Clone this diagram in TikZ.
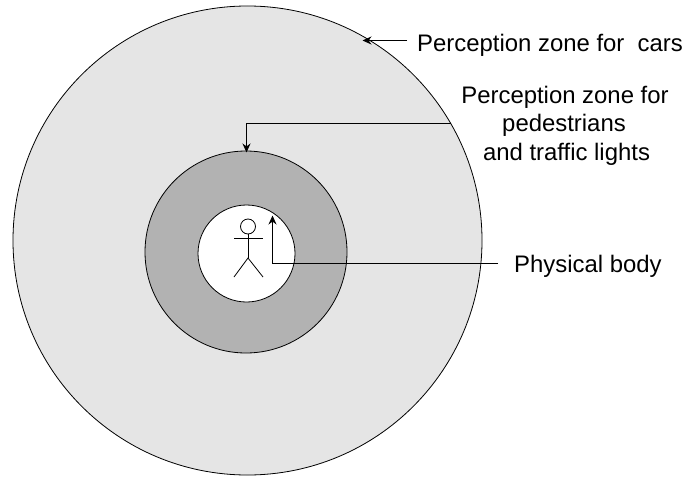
\documentclass[tikz,border=0pt]{standalone}
\usepackage{fontspec}
\setmainfont{Liberation Sans}
\usetikzlibrary{arrows.meta}
\tikzset{
  zone/.style={circle,draw=black,line width=0.8pt,inner sep=0pt,minimum size=#1},
  lbl/.style={font=\fontsize{23.9}{31}\selectfont,align=center,inner sep=0pt},
  conn/.style={line width=1pt,-{Stealth[length=9pt,width=8pt]}},
  fig/.style={line width=0.8pt}
}
\begin{document}
\begin{tikzpicture}[x=1pt,y=-1pt]
\useasboundingbox (0,0) rectangle (684,476);
\node[zone=469pt,fill=black!10] (cars) at (247.5,240.5) {};
\node[zone=202pt,fill=black!30] (ped) at (246,252) {};
\node[zone=97pt,fill=white] (body) at (246.5,253.5) {};
% stick figure
\node[circle,draw=black,fig,inner sep=0pt,minimum size=15pt] (head) at (248,226.5) {};
\coordinate (hip) at (248,258);
\coordinate (armL) at (234,238);
\coordinate (armR) at (263,238);
\coordinate (footL) at (234,277);
\coordinate (footR) at (263,277);
\draw[fig] (head) -- (hip);
\draw[fig] (armL) -- (armR);
\draw[fig] (footL) -- (hip) -- (footR);
% labels
\node[lbl,anchor=base west] (lcars) at (417,52) {Perception zone for \ cars};
\node[lbl,anchor=base] (lped) at (565,103) {Perception zone for};
\node[lbl,anchor=base] (lped2) at (564,131.5) {pedestrians};
\node[lbl,anchor=base] (lped3) at (566.5,160) {and traffic lights};
\node[lbl,anchor=base west] (lbody) at (514,272) {Physical body};
% connectors
\coordinate (a1s) at (407,40.5);
\coordinate (a1e) at (362.5,40.5);
\draw[conn] (a1s) -- (a1e);
\coordinate (a2s) at (451,123.5);
\coordinate (a2c) at (246.5,123.5);
\coordinate (a2e) at (246.5,152.5);
\draw[conn] (a2s) -- (a2c) -- (a2e);
\coordinate (a3s) at (498,263);
\coordinate (a3c) at (272.5,263);
\coordinate (a3e) at (272.5,215.5);
\draw[conn] (a3s) -- (a3c) -- (a3e);
\end{tikzpicture}
\end{document}
